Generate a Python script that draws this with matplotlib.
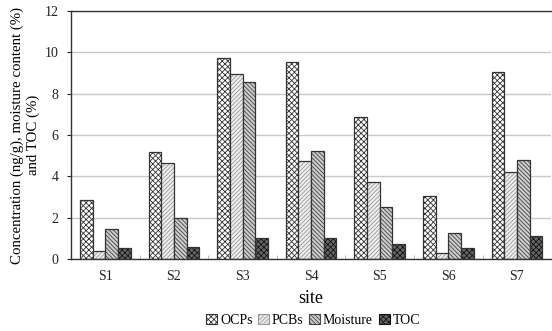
import matplotlib
matplotlib.use("Agg")
import matplotlib.pyplot as plt
import numpy as np

sites = ["S1", "S2", "S3", "S4", "S5", "S6", "S7"]
ocps = [2.84, 5.18, 9.71, 9.52, 6.87, 3.03, 9.03]
pcbs = [0.40, 4.63, 8.94, 4.74, 3.74, 0.27, 4.21]
moisture = [1.44, 1.98, 8.55, 5.23, 2.52, 1.24, 4.77]
toc = [0.52, 0.58, 1.03, 1.03, 0.71, 0.52, 1.10]

plt.rcParams["font.family"] = ["Liberation Serif", "DejaVu Serif"]
plt.rcParams["hatch.linewidth"] = 0.6

fig = plt.figure(figsize=(5.52, 3.31), dpi=100)
ax = fig.add_axes([0.1286, 0.2175, 0.870, 0.749])

x = np.arange(len(sites))
w = 0.185
series = [
    ("OCPs", ocps, "white", "#333333", "xxxxxx"),
    ("PCBs", pcbs, "#eeeeee", "#999999", "////////"),
    ("Moisture", moisture, "#cccccc", "#444444", "\\\\\\\\\\\\\\\\"),
    ("TOC", toc, "#666666", "#111111", "xxxxxx"),
]
for i, (name, vals, fc, hc, hatch) in enumerate(series):
    ax.bar(x + (i - 1.5) * w, vals, w, facecolor=fc, edgecolor=hc,
           hatch=hatch, label=name, linewidth=0)
    ax.bar(x + (i - 1.5) * w, vals, w, facecolor="none", edgecolor="#333333",
           linewidth=0.9)

ax.set_xlim(-0.5, len(sites) - 0.5)
ax.set_ylim(0, 12)
ax.set_yticks(range(0, 13, 2))
ax.set_xticks(x)
ax.set_xticklabels(sites)
ax.set_xticks(np.arange(0.5, len(sites) - 0.5), minor=True)
ax.tick_params(axis="x", which="major", length=0, pad=8, labelsize=10, colors="#222222")
ax.tick_params(axis="x", which="minor", length=3, direction="in", color="#aaaaaa")
ax.tick_params(axis="y", length=3, direction="out", labelsize=10, pad=6, colors="#222222")
ax.yaxis.grid(True, color="#c8c8c8", linewidth=1)
ax.set_axisbelow(True)
for s in ["left", "top", "bottom"]:
    ax.spines[s].set_color("#333333")
    ax.spines[s].set_linewidth(1)
ax.spines["right"].set_visible(False)

ax.set_xlabel("site", fontsize=13, labelpad=5)
ax.set_ylabel("Concentration (ng/g), moisture content (%)\nand TOC (%)",
              fontsize=10.7, labelpad=3, linespacing=1.3)

handles = []
for name, vals, fc, hc, hatch in series:
    handles.append(plt.Rectangle((0, 0), 1, 1, facecolor=fc, edgecolor=hc,
                                 hatch=hatch, linewidth=0.8))
fig.legend(handles, [s[0] for s in series], loc="center",
           bbox_to_anchor=(0.567, 0.033), ncol=4, frameon=False, fontsize=10,
           handlelength=0.8, handleheight=0.8, handletextpad=0.2,
           columnspacing=0.4, borderpad=0)

fig.savefig("out.png", dpi=100)
